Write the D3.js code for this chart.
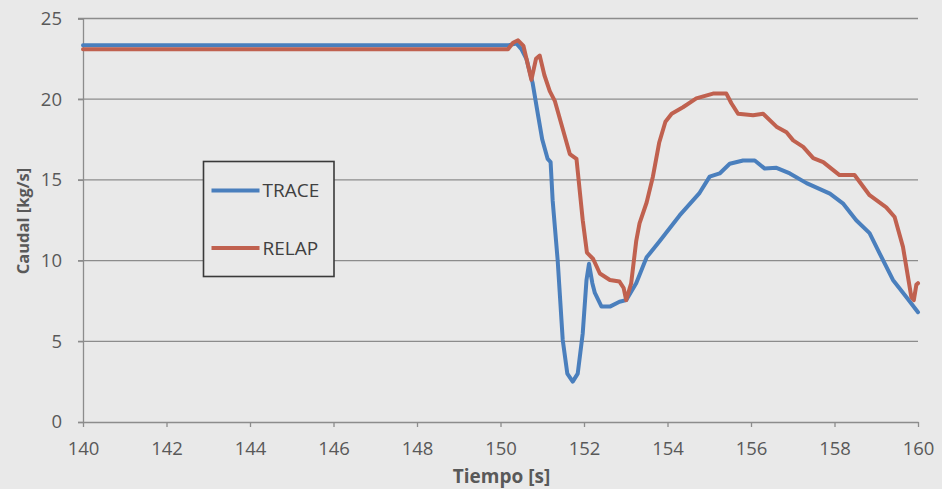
<!DOCTYPE html>
<html>
<head>
<meta charset="utf-8">
<script src="https://cdn.jsdelivr.net/npm/d3@7"></script>
<style>
  body { margin: 0; background: #e9e9e9; }
  svg { display: block; }
</style>
</head>
<body>
<div id="chart"></div>
<script>
// values
let traceTime = [140, 150.2, 150.38, 150.5, 150.62, 150.77, 150.9, 151.0, 151.13, 151.2, 151.25, 151.37, 151.49, 151.6, 151.73, 151.85, 151.97, 152.06, 152.12, 152.2, 152.26, 152.42, 152.62, 152.85, 153.01, 153.25, 153.5, 153.81, 154.29, 154.77, 155.01, 155.25, 155.49, 155.81, 156.09, 156.33, 156.61, 156.93, 157.33, 157.89, 158.2, 158.52, 158.84, 159.08, 159.4, 159.72, 160]
let traceFlow = [23.35, 23.35, 23.45, 23.1, 22.5, 21.0, 19.0, 17.5, 16.3, 16.1, 13.7, 10.0, 5.1, 3.0, 2.5, 3.0, 5.5, 8.8, 9.8, 8.6, 8.0, 7.15, 7.15, 7.45, 7.55, 8.6, 10.2, 11.2, 12.8, 14.2, 15.2, 15.4, 16.0, 16.2, 16.2, 15.7, 15.75, 15.4, 14.8, 14.15, 13.55, 12.5, 11.7, 10.45, 8.8, 7.75, 6.8]

let relapTime = [140, 150.18, 150.3, 150.42, 150.55, 150.65, 150.74, 150.85, 150.94, 151.05, 151.18, 151.3, 151.66, 151.82, 151.97, 152.07, 152.22, 152.38, 152.62, 152.85, 152.95, 153.01, 153.13, 153.25, 153.33, 153.5, 153.65, 153.8, 153.95, 154.1, 154.37, 154.69, 155.09, 155.41, 155.53, 155.69, 156.05, 156.29, 156.61, 156.85, 157.01, 157.25, 157.49, 157.73, 158.12, 158.48, 158.84, 159.24, 159.44, 159.64, 159.84, 159.9, 159.96, 160]
let relapFlow = [23.1, 23.1, 23.5, 23.65, 23.3, 22.2, 21.2, 22.5, 22.7, 21.5, 20.5, 19.9, 16.6, 16.3, 12.5, 10.5, 10.1, 9.2, 8.8, 8.7, 8.3, 7.55, 8.6, 11.2, 12.3, 13.6, 15.2, 17.3, 18.6, 19.1, 19.5, 20.05, 20.35, 20.35, 19.75, 19.1, 19.0, 19.1, 18.3, 17.95, 17.45, 17.05, 16.35, 16.1, 15.3, 15.3, 14.05, 13.3, 12.7, 10.85, 7.75, 7.55, 8.5, 8.6]

let xTicks = [140, 142, 144, 146, 148, 150, 152, 154, 156, 158, 160]
let yTicks = [0, 5, 10, 15, 20, 25]
let seriesNames = ["TRACE", "RELAP"]
let seriesColors = ["#4a7fbd", "#c0614f"]

var margin = {top: 18.5, right: 24, bottom: 67, left: 83},
    width = 942 - margin.left - margin.right,
    height = 489 - margin.top - margin.bottom;

var svg = d3.select("#chart")
  .append("svg")
    .attr("width", 942)
    .attr("height", 489)
  .append("g")
    .attr("transform", `translate(${margin.left}, ${margin.top})`);

var x = d3.scaleLinear().domain([140, 160]).range([0, width]);
var y = d3.scaleLinear().domain([0, 25]).range([height, 0]);

// gridlines (stick out 5px to the left like the excel ticks)
svg.append("g")
  .selectAll("line")
  .data(yTicks.filter(d => d > 0))
  .join("line")
  .attr("x1", -5)
  .attr("x2", width)
  .attr("y1", d => y(d))
  .attr("y2", d => y(d))
  .attr("stroke", "#8c8c8c")
  .attr("stroke-width", 1.3)

let yAxis = svg.append("g")
  .call(d3.axisLeft(y).tickValues(yTicks).tickSize(5).tickPadding(16))
yAxis.select(".domain").attr("stroke", "#8c8c8c").attr("stroke-width", 1.3)
yAxis.selectAll(".tick line").attr("stroke", "#8c8c8c").attr("stroke-width", 1.3)

let xAxis = svg.append("g")
  .attr("transform", `translate(0, ${height})`)
  .call(d3.axisBottom(x).tickValues(xTicks).tickSize(5).tickPadding(15).tickSizeOuter(0))
xAxis.select(".domain").attr("stroke", "#8c8c8c").attr("stroke-width", 1.3)
xAxis.selectAll(".tick line").attr("stroke", "#8c8c8c").attr("stroke-width", 1.3)

svg.selectAll(".tick text")
  .style("font-family", "'Open Sans', sans-serif")
  .style("font-size", "18.5px")
  .attr("fill", "#595959")

// lines
let line = d3.line().x(d => x(d[0])).y(d => y(d[1]))
let series = [
  d3.zip(traceTime, traceFlow),
  d3.zip(relapTime, relapFlow)
]

svg.selectAll(".chartLine")
  .data(series)
  .join("path")
  .attr("class", "chartLine")
  .attr("d", line)
  .attr("fill", "none")
  .attr("stroke", (d, i) => seriesColors[i])
  .attr("stroke-width", 4)
  .attr("stroke-linejoin", "round")
  .attr("stroke-linecap", "round")

// axis titles
svg.append("text")
  .attr("x", 501.5 - margin.left)
  .attr("y", 483 - margin.top)
  .attr("text-anchor", "middle")
  .style("font-family", "'Open Sans', sans-serif")
  .style("font-size", "19px")
  .style("font-weight", "bold")
  .attr("fill", "#595959")
  .text("Tiempo [s]")

svg.append("text")
  .attr("transform", `translate(${23 - margin.left}, ${221 - margin.top}) rotate(-90)`)
  .attr("text-anchor", "middle")
  .attr("dy", "0.35em")
  .style("font-family", "'Open Sans', sans-serif")
  .style("font-size", "16.5px")
  .style("font-weight", "bold")
  .attr("fill", "#595959")
  .text("Caudal [kg/s]")

// legend
let legend = svg.append("g")
  .attr("transform", `translate(${203.5 - margin.left}, ${161.5 - margin.top})`)

legend.append("rect")
  .attr("width", 130.5)
  .attr("height", 115)
  .attr("fill", "#e9e9e9")
  .attr("stroke", "#3a3a3a")
  .attr("stroke-width", 1.6)

let items = legend.selectAll(".item")
  .data(seriesNames)
  .join("g")
  .attr("class", "item")
  .attr("transform", (d, i) => `translate(0, ${29 + i * 57.5})`)

items.append("line")
  .attr("x1", 8)
  .attr("x2", 56)
  .attr("stroke", (d, i) => seriesColors[i])
  .attr("stroke-width", 4)

items.append("text")
  .attr("x", 59)
  .attr("dy", "0.36em")
  .style("font-family", "'Open Sans', sans-serif")
  .style("font-size", "19px")
  .attr("fill", "#404040")
  .text(d => d)
</script>
</body>
</html>
